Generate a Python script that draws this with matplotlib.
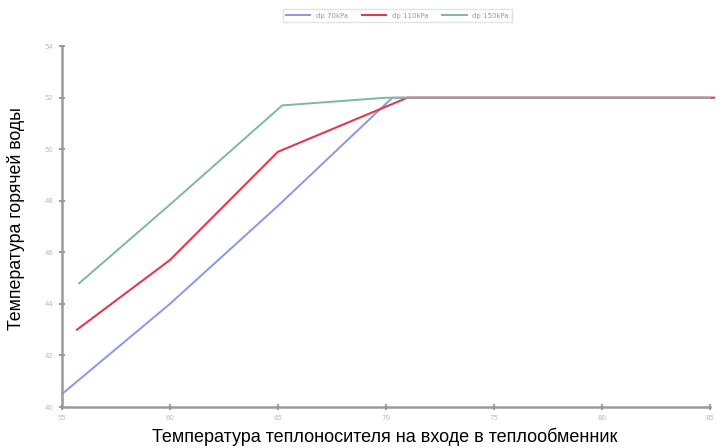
import matplotlib
matplotlib.use("Agg")
import matplotlib.pyplot as plt

# Значения
x_blue = [55, 60, 65, 70.3, 85]
y_blue = [40.5, 44.0, 47.8, 52.0, 52.0]

x_red = [55.7, 60, 65, 71.0, 85.2]
y_red = [43.0, 45.7, 49.9, 52.0, 52.0]

x_green = [55.8, 60, 65.2, 70, 85]
y_green = [44.8, 47.85, 51.7, 52.0, 52.0]

labels = ['dp 70kPa', 'dp 110kPa', 'dp 150kPa']
x_ticks = [55, 60, 65, 70, 75, 80, 85]
y_ticks = [40, 42, 44, 46, 48, 50, 52, 54]

fig = plt.figure(figsize=(7.28, 4.48), dpi=100)
ax = fig.add_axes([0.085, 0.0915, 0.89, 0.8055])

ax.plot(x_blue, y_blue, color='#8a97e6', lw=1.4, label=labels[0], clip_on=False)
ax.plot(x_red, y_red, color='#e2394f', lw=1.5, label=labels[1], clip_on=False)
ax.plot(x_green, y_green, color='#7db99a', lw=1.4, label=labels[2], clip_on=False)

ax.set_xlim(55, 85)
ax.set_ylim(40, 54)
ax.set_xticks(x_ticks)
ax.set_yticks(y_ticks)
ax.tick_params(direction='inout', length=5, width=1.2, color='#888888',
               labelsize=5, labelcolor='#bbbbbb')

for s in ['top', 'right']:
    ax.spines[s].set_visible(False)
for s in ['left', 'bottom']:
    ax.spines[s].set_color('#999999')
    ax.spines[s].set_linewidth(1.8)

fig.text(0.022, 0.513, 'Температура горячей воды', rotation=90,
         ha='center', va='center', fontsize=12.8, family='Liberation Sans')
fig.text(0.529, 0.024, 'Температура теплоносителя на входе в теплообменник',
         ha='center', va='center', fontsize=13, family='Liberation Sans')

leg = fig.legend(loc='center', bbox_to_anchor=(0.546, 0.965), ncol=3,
                 fontsize=5, frameon=True, fancybox=False, handlelength=3.5,
                 columnspacing=2, borderpad=0.5)
leg.get_frame().set_edgecolor('#dddddd')
for t in leg.get_texts():
    t.set_color('#999999')

fig.savefig('out.png', dpi=100)
